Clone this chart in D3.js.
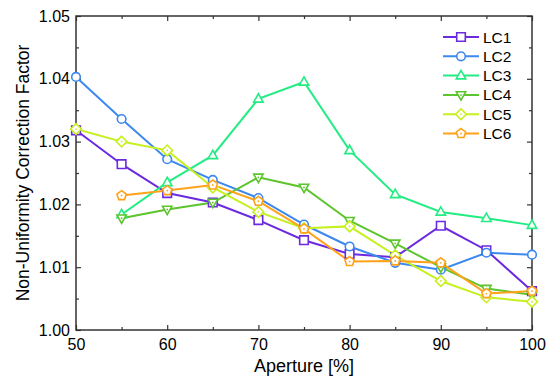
<!DOCTYPE html>
<html>
<head>
<meta charset="utf-8">
<script src="https://cdn.jsdelivr.net/npm/d3@7"></script>
<style>
  body { margin: 0; background: #fff; }
  text { font-family: Arial, "Liberation Sans", sans-serif; fill: #000; }
</style>
</head>
<body>
<div id="chart"></div>
<script>
const apertures = [50, 55, 60, 65, 70, 75, 80, 85, 90, 95, 100];
const seriesNames = ["LC1", "LC2", "LC3", "LC4", "LC5", "LC6"];
const lc1 = [1.0318, 1.0264, 1.0218, 1.0203, 1.0175, 1.0143, 1.0121, 1.0116, 1.0166, 1.0127, 1.0062];
const lc2 = [1.0403, 1.0336, 1.0272, 1.0239, 1.0210, 1.0168, 1.0133, 1.0107, 1.0096, 1.0123, 1.0120];
const lc3 = [null, 1.0184, 1.0235, 1.0278, 1.0368, 1.0395, 1.0286, 1.0216, 1.0188, 1.0178, 1.0167];
const lc4 = [null, 1.0178, 1.0192, 1.0203, 1.0243, 1.0227, 1.0174, 1.0138, 1.0100, 1.0066, 1.0056];
const lc5 = [1.0320, 1.0300, 1.0286, 1.0227, 1.0188, 1.0162, 1.0165, 1.0119, 1.0078, 1.0052, 1.0045];
const lc6 = [null, 1.0214, 1.0222, 1.0231, 1.0205, 1.0161, 1.0109, 1.0110, 1.0107, 1.0058, 1.0062];
const xTicks = [50, 60, 70, 80, 90, 100];
const yTicks = [1.00, 1.01, 1.02, 1.03, 1.04, 1.05];

const colors = ["#6c2ae0", "#3d88ee", "#22ec82", "#5cc42c", "#c6f01e", "#ffa21a"];
const symbols = ["square", "circle", "triangle", "triangleDown", "diamond", "pentagon"];
const allValues = [lc1, lc2, lc3, lc4, lc5, lc6];

const width = 554, height = 380;
const margin = { top: 16, right: 22, bottom: 50, left: 76 };

const svg = d3.select("#chart").append("svg")
  .attr("width", width)
  .attr("height", height);

const x = d3.scaleLinear().domain([50, 100]).range([margin.left, width - margin.right]);
const y = d3.scaleLinear().domain([1.00, 1.05]).range([height - margin.bottom, margin.top]);

const x0 = x.range()[0], x1 = x.range()[1];
const y0 = y.range()[0], y1 = y.range()[1];

// ticks on all four sides, pointing inward
const minorX = d3.range(55, 100, 10);
const minorY = d3.range(1.005, 1.05, 0.01);

svg.append("g").attr("transform", `translate(0,${y0})`)
  .call(d3.axisBottom(x).tickValues(xTicks).tickSize(-5).tickFormat(d3.format("d")).tickPadding(9))
  .call(g => g.select(".domain").remove())
  .call(g => g.selectAll("text").attr("font-size", 16));
svg.append("g").attr("transform", `translate(0,${y0})`)
  .call(d3.axisBottom(x).tickValues(minorX).tickSize(-3).tickFormat(""))
  .call(g => g.select(".domain").remove());
svg.append("g").attr("transform", `translate(0,${y1})`)
  .call(d3.axisTop(x).tickValues(xTicks).tickSize(-5).tickFormat(""))
  .call(g => g.select(".domain").remove());
svg.append("g").attr("transform", `translate(0,${y1})`)
  .call(d3.axisTop(x).tickValues(minorX).tickSize(-3).tickFormat(""))
  .call(g => g.select(".domain").remove());

svg.append("g").attr("transform", `translate(${x0},0)`)
  .call(d3.axisLeft(y).tickValues(yTicks).tickSize(-5).tickFormat(d3.format(".2f")).tickPadding(6))
  .call(g => g.select(".domain").remove())
  .call(g => g.selectAll("text").attr("font-size", 16));
svg.append("g").attr("transform", `translate(${x0},0)`)
  .call(d3.axisLeft(y).tickValues(minorY).tickSize(-3).tickFormat(""))
  .call(g => g.select(".domain").remove());
svg.append("g").attr("transform", `translate(${x1},0)`)
  .call(d3.axisRight(y).tickValues(yTicks).tickSize(-5).tickFormat(""))
  .call(g => g.select(".domain").remove());
svg.append("g").attr("transform", `translate(${x1},0)`)
  .call(d3.axisRight(y).tickValues(minorY).tickSize(-3).tickFormat(""))
  .call(g => g.select(".domain").remove());

svg.selectAll(".tick line").attr("stroke", "#333").attr("stroke-width", 1.2);

// frame
svg.append("rect")
  .attr("x", x0).attr("y", y1)
  .attr("width", x1 - x0).attr("height", y0 - y1)
  .attr("fill", "none").attr("stroke", "#333").attr("stroke-width", 1.5);

// axis titles
svg.append("text")
  .attr("x", (x0 + x1) / 2).attr("y", 372)
  .attr("text-anchor", "middle").attr("font-size", 18)
  .text("Aperture [%]");
svg.append("text")
  .attr("transform", `translate(29,${(y0 + y1) / 2}) rotate(-90)`)
  .attr("text-anchor", "middle").attr("font-size", 17.5)
  .text("Non-Uniformity Correction Factor");

// marker shapes
function markerPath(kind, r) {
  switch (kind) {
    case "square": return `M${-r},${-r}H${r}V${r}H${-r}Z`;
    case "circle": return d3.symbol(d3.symbolCircle, Math.PI * r * r)();
    case "triangle": return `M0,${-r * 1.2}L${r * 1.1},${r * 0.75}L${-r * 1.1},${r * 0.75}Z`;
    case "triangleDown": return `M0,${r * 1.2}L${r * 1.1},${-r * 0.75}L${-r * 1.1},${-r * 0.75}Z`;
    case "diamond": return `M0,${-r * 1.25}L${r * 1.25},0L0,${r * 1.25}L${-r * 1.25},0Z`;
    case "pentagon": {
      const pts = d3.range(5).map(i => {
        const a = -Math.PI / 2 + i * 2 * Math.PI / 5;
        return [Math.cos(a) * r * 1.15, Math.sin(a) * r * 1.15];
      });
      return "M" + pts.join("L") + "Z";
    }
  }
}
const dotted = ["triangleDown", "diamond", "pentagon"];

const line = d3.line()
  .defined(d => d.v !== null)
  .x(d => x(d.a))
  .y(d => y(d.v));

function drawMarker(g, kind, color) {
  g.append("path")
    .attr("d", markerPath(kind, 4.3))
    .attr("fill", "#fff")
    .attr("stroke", color)
    .attr("stroke-width", 1.6);
  if (dotted.includes(kind)) {
    g.append("circle").attr("r", 0.9).attr("fill", color);
  }
}

allValues.forEach((vals, i) => {
  const pts = apertures.map((a, j) => ({ a: a, v: vals[j] }));
  svg.append("path")
    .datum(pts)
    .attr("fill", "none")
    .attr("stroke", colors[i])
    .attr("stroke-width", 2)
    .attr("d", line);
});

allValues.forEach((vals, i) => {
  const pts = apertures.map((a, j) => ({ a: a, v: vals[j] })).filter(d => d.v !== null);
  svg.append("g").selectAll("g")
    .data(pts)
    .enter().append("g")
    .attr("transform", d => `translate(${x(d.a)},${y(d.v)})`)
    .each(function () { drawMarker(d3.select(this), symbols[i], colors[i]); });
});

// legend
const legend = svg.append("g").attr("transform", "translate(443,37)");
seriesNames.forEach((name, i) => {
  const row = legend.append("g").attr("transform", `translate(0,${i * 19.3})`);
  row.append("line")
    .attr("x1", 0).attr("x2", 36)
    .attr("stroke", colors[i]).attr("stroke-width", 2);
  drawMarker(row.append("g").attr("transform", "translate(18,0)"), symbols[i], colors[i]);
  row.append("text")
    .attr("x", 40).attr("y", 0).attr("dy", "0.36em")
    .attr("font-size", 15.5)
    .text(name);
});
</script>
</body>
</html>
